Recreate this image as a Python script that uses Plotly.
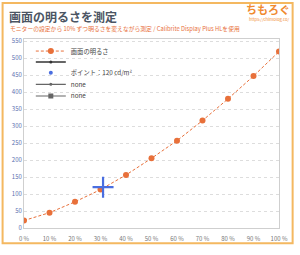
import plotly.graph_objects as go

levels = [0, 10, 20, 30, 40, 50, 60, 70, 80, 90, 100]
brightness = [22, 45, 77, 113, 156, 205, 257, 316, 380, 447, 519]
point_x = [31]
point_y = [120]
x_tick_labels = [f"{v} %" for v in levels]
y_ticks = list(range(0, 551, 50))

FONT = "Noto Sans CJK JP"
ORANGE = "#e8703a"

fig = go.Figure()
fig.add_trace(go.Scatter(x=levels, y=brightness, mode="lines+markers", name="画面の明るさ",
                         legend="legend",
                         line=dict(color=ORANGE, width=1, dash="3px,2px"),
                         marker=dict(color=ORANGE, size=6)))
fig.add_trace(go.Scatter(x=[None], y=[None], mode="lines+markers", name=" ",
                         legend="legend2",
                         line=dict(color="#333333", width=1.5),
                         marker=dict(color="#333333", size=3)))
fig.add_trace(go.Scatter(x=[None], y=[None], mode="markers", name="ポイント：120 cd/m²",
                         legend="legend3",
                         marker=dict(color="#4a6ee0", size=4)))
fig.add_trace(go.Scatter(x=[None], y=[None], mode="lines+markers", name="none",
                         legend="legend4",
                         line=dict(color="#666666", width=1.2),
                         marker=dict(color="#666666", size=3)))
fig.add_trace(go.Scatter(x=[None], y=[None], mode="lines+markers", name="none",
                         legend="legend5",
                         line=dict(color="#666666", width=1.2),
                         marker=dict(color="#666666", size=5, symbol="square")))
fig.add_trace(go.Scatter(x=point_x, y=point_y, mode="markers", showlegend=False,
                         marker=dict(symbol="cross-thin", size=15,
                                     line=dict(color="#4a6ee0", width=2.2))))

fig.update_xaxes(range=[0, 100], tickvals=levels, ticktext=x_tick_labels,
                 showgrid=False, zeroline=False, showline=True, mirror=True,
                 linecolor="#cfcfcf", linewidth=1, ticks="", ticklabelstandoff=5,
                 tickfont=dict(size=6, color="#777777", family=FONT))
fig.update_yaxes(range=[0, 556], tickvals=y_ticks,
                 showgrid=True, gridcolor="#dddddd", griddash="dot", gridwidth=1,
                 zeroline=False, showline=True, mirror=True,
                 linecolor="#cfcfcf", linewidth=1, ticks="",
                 tickfont=dict(size=6, color="#5b6fb0", family=FONT))

W, H = 300, 255
L, R, T, B = 23, 15, 39, 17
pw, ph = W - L - R, H - T - B

def px(x):
    return (x - L) / pw

def py(y):
    return (H - B - y) / ph

def leg(ypix):
    return dict(x=px(30), y=py(ypix), xanchor="left", yanchor="middle",
                bgcolor="rgba(0,0,0,0)", font=dict(size=6.3, color="#444444", family=FONT),
                itemwidth=30)

fig.update_layout(
    width=W, height=H,
    margin=dict(l=L, r=R, t=T, b=B),
    paper_bgcolor="white", plot_bgcolor="white",
    font=dict(family=FONT),
    showlegend=True,
    legend=leg(51.7), legend2=leg(63.3), legend3=leg(74.5), legend4=leg(86.7), legend5=leg(99),
    annotations=[
        dict(text="<b>画面の明るさを測定</b>", xref="paper", yref="paper",
             x=px(7), y=py(15.5), xanchor="left", yanchor="middle", showarrow=False,
             borderpad=0, font=dict(size=12, color="#4b5563", family=FONT)),
        dict(text="モニターの設定から 10% ずつ明るさを変えながら測定 / Calibrite Display Plus HLを使用",
             xref="paper", yref="paper", x=px(8), y=py(27.5), xanchor="left", yanchor="middle",
             borderpad=0, showarrow=False, font=dict(size=5.8, color=ORANGE, family=FONT)),
        dict(text="<b>ちもろぐ</b>", xref="paper", yref="paper", x=px(297), y=py(7.5),
             xanchor="right", yanchor="middle", showarrow=False, borderpad=0,
             font=dict(size=11, color="#f08a30", family=FONT)),
        dict(text="https://chimolog.co/", xref="paper", yref="paper", x=px(296), y=py(17.5),
             xanchor="right", yanchor="middle", showarrow=False, borderpad=0,
             font=dict(size=4.2, color="#f08a30", family=FONT)),
    ],
    shapes=[
        dict(type="rect", xref="paper", yref="paper", x0=px(1), x1=px(299), y0=py(1), y1=py(254),
             line=dict(color="#f4b860", width=2), fillcolor="rgba(0,0,0,0)", layer="below"),
    ],
)

fig.write_html("out.html")
